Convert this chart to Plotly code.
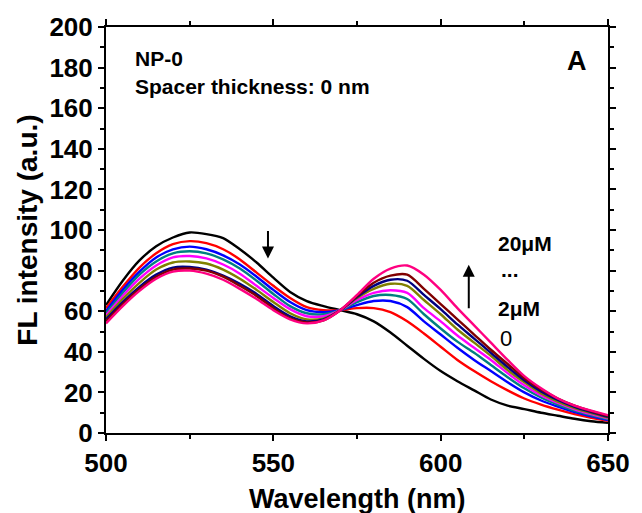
import plotly.graph_objects as go

wavelength = [500, 505, 510, 515, 520, 525, 530, 535, 540, 545, 550, 555, 560, 565, 570,
              575, 580, 585, 590, 595, 600, 605, 610, 615, 620, 625, 630, 635, 640, 645, 650]

fl_0 = [63, 75, 85, 92, 96.3, 98.8, 98, 96, 90.5, 84, 76.5, 69.5, 65, 62.5, 60.5,
        58.5, 55, 49.5, 43, 36.5, 30.5, 25.5, 21, 16.5, 13.5, 11.8, 10, 8.5, 7, 5.8, 5]
fl_2 = [61.5, 72, 81.5, 88.5, 93, 94.5, 93.5, 90.5, 85.5, 79, 72.5, 66.5, 62, 60.5, 60.5,
        61.5, 61.5, 59.5, 55, 49, 42.5, 36, 30.5, 25.5, 21, 17, 14, 11.5, 9.3, 7.5, 6]
fl_4 = [60, 70.5, 79.5, 86.5, 90.5, 91.8, 90.5, 87.5, 83, 77, 70.5, 64.5, 60.5, 59.5, 60.5,
        63, 65, 65, 62, 55, 48.5, 42, 36, 30.5, 25, 20, 16, 13, 10.3, 8.2, 6.4]
fl_6 = [59, 69, 78, 84.5, 88.5, 89.5, 88.5, 85.5, 81, 75, 68.5, 62.5, 59, 58.5, 60.5,
        64.5, 67.5, 68, 66, 58.5, 51.5, 45, 39.5, 33.5, 27.5, 22, 17.5, 14, 11, 8.8, 6.8]
fl_8 = [58, 67.5, 76, 82.5, 86.5, 87.2, 86, 83, 78.5, 72.5, 66.5, 61, 57.5, 57.5, 60.5,
        65.5, 69, 70.3, 69, 61.5, 55, 48, 42, 36, 29.5, 23.5, 18.5, 14.8, 11.7, 9.3, 7.2]
fl_10 = [57, 66, 74, 80.5, 84, 84.5, 83.5, 80.5, 76, 70.5, 64.5, 59, 56, 56.5, 60.5,
         66.5, 71, 73.5, 72.5, 65.5, 58.5, 51, 44.5, 38, 31, 25, 19.5, 15.5, 12.3, 9.8, 7.6]
fl_12 = [56, 64.5, 72, 78, 81.5, 81.8, 80.5, 77.5, 73.5, 68.5, 62.5, 57.5, 55, 56, 60.5,
         67, 72.5, 75.5, 75, 68, 61, 53.5, 46.5, 39.5, 32.5, 26, 20.5, 16.3, 12.9, 10.3, 8]
fl_14 = [55, 63.5, 71, 77, 80.5, 81, 80, 77, 72.5, 67.5, 61.5, 56.5, 54.5, 55.5, 60.5,
         67.5, 74, 77.5, 78, 71, 63.5, 56, 48.5, 41, 34, 27, 21.5, 17, 13.5, 10.8, 8.4]
fl_20 = [54, 62.5, 70, 76, 79.5, 80, 78.5, 75.5, 71, 66, 60.5, 56, 54, 55.5, 60.5,
         68, 76, 81, 82.5, 78, 70.5, 61.5, 53, 44.5, 36, 28, 22, 17, 13.5, 11, 8.8]

series = [
    ("0", fl_0, "#000000"),
    ("2 μM", fl_2, "#FF0000"),
    ("4 μM", fl_4, "#0000FF"),
    ("6 μM", fl_6, "#008080"),
    ("8 μM", fl_8, "#FF00FF"),
    ("10 μM", fl_10, "#808000"),
    ("12 μM", fl_12, "#000080"),
    ("14 μM", fl_14, "#800000"),
    ("20 μM", fl_20, "#FF0080"),
]

FONT = "Arial, Liberation Sans, sans-serif"

fig = go.Figure()
for name, vals, col in series:
    fig.add_trace(go.Scatter(x=wavelength, y=vals, mode="lines", name=name,
                             line=dict(color=col, width=2.4, shape="spline", smoothing=0.8)))

axis_common = dict(
    showline=True, linecolor="black", linewidth=2, mirror="ticks",
    ticks="outside", ticklen=6, tickwidth=2, tickcolor="black",
    showgrid=False, zeroline=False,
    tickfont=dict(family=FONT, size=26, color="black", weight="bold"),
)

fig.update_xaxes(range=[500, 650], dtick=50, tick0=500,
                 minor=dict(dtick=25, ticks="outside", ticklen=4, tickwidth=2, tickcolor="black"),
                 **axis_common)
fig.update_yaxes(range=[0, 200], dtick=20, tick0=0,
                 minor=dict(dtick=10, ticks="outside", ticklen=4, tickwidth=2, tickcolor="black"),
                 **axis_common)

def ann(text, x, y, size=21, bold=True, xanchor="left", yanchor="middle", angle=0):
    return dict(text=text, x=x, y=y, xref="paper", yref="paper", showarrow=False,
                xanchor=xanchor, yanchor=yanchor, textangle=angle,
                font=dict(family=FONT, size=size, color="black",
                          weight="bold" if bold else "normal"))

annotations = [
    ann("NP-0", 0.053, 0.922),
    ann("Spacer thickness: 0 nm", 0.053, 0.854),
    ann("A", 0.939, 0.917, size=27, xanchor="center"),
    ann("20μM", 0.776, 0.466),
    ann("...", 0.783, 0.402),
    ann("2μM", 0.776, 0.307),
    ann("0", 0.781, 0.232, size=22, bold=False),
    ann("Wavelength (nm)", 0.5, -0.163, size=27, xanchor="center"),
    ann("FL intensity (a.u.)", -0.158, 0.5, size=28, xanchor="center", angle=-90),
    dict(x=548.4, y=85.9, xref="x", yref="y", ax=0, ay=-29, axref="pixel", ayref="pixel",
         text="", showarrow=True, arrowhead=2, arrowsize=1.2, arrowwidth=2, arrowcolor="black"),
    dict(x=608.4, y=82.9, xref="x", yref="y", ax=0, ay=45, axref="pixel", ayref="pixel",
         text="", showarrow=True, arrowhead=2, arrowsize=1.2, arrowwidth=2, arrowcolor="black"),
]

fig.update_layout(
    width=642, height=513,
    margin=dict(l=106, r=28, t=23, b=80),
    paper_bgcolor="white", plot_bgcolor="white",
    showlegend=False,
    annotations=annotations,
)

fig.write_html("out.html")
